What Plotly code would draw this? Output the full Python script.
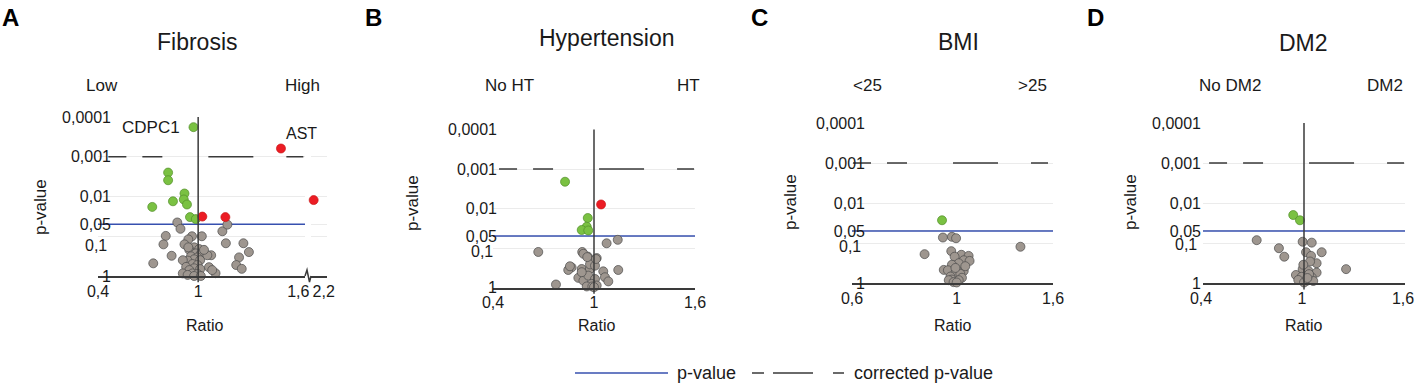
import math
import plotly.graph_objects as go

FONT = "Liberation Sans, Arial, Helvetica, sans-serif"
W, H = 1416, 386

P_THRESHOLD = 0.05
CORRECTED_THRESHOLD = 0.001

Y_TICK_VALUES = [0.0001, 0.001, 0.01, 0.05, 0.1, 1]
Y_TICK_LABELS = ["0,0001", "0,001", "0,01", "0,05", "", "1"]
Y_TENTH_LABEL = "0,1"   # drawn slightly below its gridline, as in the reference

# ---------------- Panel A: Fibrosis ----------------
A_gray_ratio = [0.875, 0.894, 0.806, 0.792, 0.841, 0.731, 0.963, 0.941, 1.022, 1.145,
                1.175, 1.166, 1.271, 1.304, 1.245, 1.228, 1.261, 1.065, 1.104, 1.078,
                0.976, 1.006, 0.947, 0.986, 1.016, 0.957, 0.996, 0.976, 0.937, 1.012,
                0.908, 0.966, 0.996, 0.928, 0.976, 1.012, 0.947, 0.908, 0.966, 0.996,
                0.937, 0.976, 1.016, 1.084, 1.055, 1.035, 0.918, 0.941]
A_gray_p = [0.045, 0.065, 0.098, 0.16, 0.31, 0.48, 0.10, 0.12, 0.10, 0.075,
            0.051, 0.15, 0.15, 0.25, 0.34, 0.53, 0.66, 0.60, 0.85, 0.30,
            0.19, 0.21, 0.22, 0.27, 0.28, 0.32, 0.34, 0.38, 0.41, 0.40,
            0.40, 0.50, 0.53, 0.59, 0.64, 0.67, 0.71, 0.86, 0.86, 0.89,
            0.94, 1.0, 1.0, 0.71, 0.30, 0.22, 0.16, 0.19]
A_low_ratio = [0.972, 0.82, 0.82, 0.918, 0.914, 0.933, 0.849, 0.725, 0.951, 0.986]
A_low_p = [0.00018, 0.0025, 0.0039, 0.0084, 0.0119, 0.0159, 0.0132, 0.0183, 0.033, 0.037]
A_high_ratio = [1.496, 2.05, 1.025, 1.163]
A_high_p = [0.00062, 0.0123, 0.032, 0.033]

# ---------------- Panel B: Hypertension ----------------
B_gray_ratio = [1.075, 1.141, 0.669, 0.930, 0.963, 1.016, 0.986, 0.867, 0.847, 0.927,
                0.976, 1.055, 1.144, 1.065, 1.085, 0.907, 0.937, 0.966, 1.006, 0.986,
                1.016, 0.957, 0.774, 0.927, 0.976, 1.006, 0.857, 0.937, 0.960, 1.012,
                0.99, 1.0]
B_gray_p = [0.076, 0.062, 0.126, 0.126, 0.165, 0.18, 0.21, 0.31, 0.36, 0.34,
            0.34, 0.39, 0.36, 0.55, 0.70, 0.57, 0.67, 0.50, 0.61, 0.81,
            0.89, 0.94, 0.84, 0.41, 0.26, 0.28, 0.29, 0.14, 0.17, 0.19,
            0.94, 0.98]
B_low_ratio = [0.828, 0.963, 0.957, 0.927, 0.966]
B_low_p = [0.0021, 0.0174, 0.029, 0.035, 0.036]
B_high_ratio = [1.042]
B_high_p = [0.0079]

# ---------------- Panel C: BMI ----------------
C_gray_ratio = [0.935, 0.977, 0.997, 0.855, 1.365, 0.974, 1.023, 1.060, 0.990, 1.035,
                1.065, 1.010, 0.977, 0.939, 0.958, 1.035, 0.994, 1.018, 0.970, 1.026,
                0.977, 1.010, 0.994, 1.043, 0.962, 0.985, 1.0]
C_gray_p = [0.073, 0.070, 0.076, 0.19, 0.124, 0.16, 0.197, 0.21, 0.22, 0.27,
            0.28, 0.32, 0.35, 0.47, 0.48, 0.50, 0.55, 0.59, 0.69, 0.74,
            0.82, 0.85, 0.42, 0.38, 0.85, 0.95, 0.97]
C_low_ratio = [0.931]
C_low_p = [0.027]

# ---------------- Panel D: DM2 ----------------
D_gray_ratio = [0.719, 0.992, 1.046, 0.851, 0.883, 1.105, 1.012, 1.042, 1.250, 1.075,
                1.036, 0.992, 1.026, 1.075, 0.952, 0.986, 1.046, 0.966, 1.016, 1.055,
                0.996, 1.0, 1.03, 1.02]
D_gray_p = [0.085, 0.093, 0.098, 0.135, 0.22, 0.17, 0.17, 0.21, 0.45, 0.32,
            0.29, 0.45, 0.50, 0.55, 0.63, 0.70, 0.72, 0.84, 0.88, 0.89,
            0.35, 0.97, 0.60, 0.75]
D_low_ratio = [0.936, 0.976]
D_low_p = [0.020, 0.027]

GRAY = "rgb(158,150,143)"
GREEN = "rgb(122,193,66)"
RED = "rgb(236,28,36)"
DARK = "#3a3a3a"
BLUE = "rgb(55,80,175)"
GRID = "#ebebeb"
TEXT = "#1a1a1a"
DASH = "18px,16px,20px,46px,45px,33px,17px,300px"

# x ranges of each panel in data units (ratio)
A_RANGE = [0.4, 1.64]
A_FAR_RANGE = [2.0, 2.3]
B_RANGE = [0.4, 1.6]
C_RANGE = [0.6, 1.6]     # logarithmic axis
D_RANGE = [0.4, 1.6]


def px2x(px):
    return px / W


def py2y(py):
    return 1 - py / H


fig = go.Figure()

# threshold lines (drawn first so the points sit on top)
# (x axis, y axis, x range, dashed start fraction, log x?)
panel_axes = [
    ("x", "y", A_RANGE, 0.05, False),
    ("x3", "y2", B_RANGE, 0.03, False),
    ("x4", "y3", C_RANGE, 0.005, True),
    ("x5", "y4", D_RANGE, 0.03, False),
]
for xa, ya, rng, dstart, is_log in panel_axes:
    x_lo, x_hi = rng
    if is_log:
        d_lo = 10 ** (math.log10(x_lo) + dstart * (math.log10(x_hi) - math.log10(x_lo)))
    else:
        d_lo = x_lo + dstart * (x_hi - x_lo)
    fig.add_trace(go.Scatter(x=[x_lo, x_hi], y=[P_THRESHOLD, P_THRESHOLD], mode="lines",
                             xaxis=xa, yaxis=ya, hoverinfo="skip", cliponaxis=False,
                             line=dict(color=BLUE, width=1.5)))
    fig.add_trace(go.Scatter(x=[d_lo, x_hi], y=[CORRECTED_THRESHOLD, CORRECTED_THRESHOLD],
                             mode="lines", xaxis=xa, yaxis=ya, hoverinfo="skip", cliponaxis=False,
                             line=dict(color=DARK, width=1.4, dash=DASH)))


def add_points(xs, ys, color, xa, ya, outline):
    fig.add_trace(go.Scatter(
        x=xs, y=ys, mode="markers", xaxis=xa, yaxis=ya, cliponaxis=False,
        hoverinfo="x+y",
        marker=dict(size=9, color=color, line=dict(color=outline, width=0.7))))


# Panel A: points beyond the axis break go onto the second x axis
A_BREAK = 1.6
add_points(A_gray_ratio, A_gray_p, GRAY, "x", "y", "#4a4a4a")
add_points(A_low_ratio, A_low_p, GREEN, "x", "y", "rgb(80,140,40)")
add_points([r for r in A_high_ratio if r <= A_BREAK],
           [p for r, p in zip(A_high_ratio, A_high_p) if r <= A_BREAK], RED, "x", "y", "rgb(200,20,20)")
add_points([r for r in A_high_ratio if r > A_BREAK],
           [p for r, p in zip(A_high_ratio, A_high_p) if r > A_BREAK], RED, "x2", "y", "rgb(200,20,20)")

add_points(B_gray_ratio, B_gray_p, GRAY, "x3", "y2", "#4a4a4a")
add_points(B_low_ratio, B_low_p, GREEN, "x3", "y2", "rgb(80,140,40)")
add_points(B_high_ratio, B_high_p, RED, "x3", "y2", "rgb(200,20,20)")

add_points(C_gray_ratio, C_gray_p, GRAY, "x4", "y3", "#4a4a4a")
add_points(C_low_ratio, C_low_p, GREEN, "x4", "y3", "rgb(80,140,40)")

add_points(D_gray_ratio, D_gray_p, GRAY, "x5", "y4", "#4a4a4a")
add_points(D_low_ratio, D_low_p, GREEN, "x5", "y4", "rgb(80,140,40)")

tickfont = dict(family=FONT, size=16, color=TEXT)


def xaxis_cfg(dom, rng, tv, tt, anchor, typ="linear", shift=0):
    r = [math.log10(v) for v in rng] if typ == "log" else rng
    return dict(domain=[px2x(dom[0]), px2x(dom[1])], range=r, type=typ, anchor=anchor,
                tickmode="array", tickvals=tv, ticktext=tt, showline=True, linecolor=DARK,
                linewidth=1.5, showgrid=False, zeroline=False, ticks="", tickfont=tickfont,
                ticklabelshift=shift, ticklabeloverflow="allow", fixedrange=True,
                automargin=False)


def yaxis_cfg(dom, pos):
    return dict(domain=[py2y(dom[0]), py2y(dom[1])], type="log", range=[0, -4],
                anchor="free", position=px2x(pos), tickmode="array",
                tickvals=Y_TICK_VALUES, ticktext=Y_TICK_LABELS, showgrid=True,
                gridcolor=GRID, gridwidth=1, showline=False, zeroline=False, ticks="",
                tickfont=tickfont, fixedrange=True, automargin=False)


fig.update_layout(
    xaxis=xaxis_cfg((98, 305), A_RANGE, [0.4, 1, 1.6], ["0,4", "1", "1,6"], "y"),
    xaxis2=xaxis_cfg((311, 327), A_FAR_RANGE, [2.2], ["2,2"], "y", shift=2),
    xaxis3=xaxis_cfg((493, 695), B_RANGE, [0.4, 1, 1.6], ["0,4", "1", "1,6"], "y2"),
    xaxis4=xaxis_cfg((852, 1053), C_RANGE, [0.6, 1, 1.6], ["0,6", "1", "1,6"], "y3", typ="log"),
    xaxis5=xaxis_cfg((1203, 1405), D_RANGE, [0.4, 1, 1.6], ["0,4", "1", "1,6"], "y4", shift=-2),
    yaxis=yaxis_cfg((276, 117), 111),
    yaxis2=yaxis_cfg((287.5, 129.5), 497),
    yaxis3=yaxis_cfg((283, 123), 865),
    yaxis4=yaxis_cfg((283, 123), 1201),
)

shapes = []
annotations = []
# vertical ratio = 1 line (axis units: log10 for the log axis) and the "0,1" labels
for xa, ya, one, edge, tshift in [("x", "y", 1, 111, -9), ("x3", "y2", 1, 497, -3),
                                  ("x4", "y3", math.log10(1), 865, -3), ("x5", "y4", 1, 1201, -1)]:
    shapes.append(dict(type="line", xref=xa, yref=f"{ya} domain", x0=one, x1=one, y0=-0.04, y1=1,
                       line=dict(color=DARK, width=1.5), layer="above"))
    annotations.append(dict(text=Y_TENTH_LABEL, x=px2x(edge - 2), y=math.log10(0.1), xref="paper",
                            yref=ya, showarrow=False, xanchor="right", yanchor="middle",
                            yshift=tshift, font=tickfont))

# axis break zigzag on panel A
bx = [305, 307, 309.5, 311]
by = [276, 270, 282, 276]
path = "M " + " L ".join(f"{px2x(a):.5f},{py2y(b):.5f}" for a, b in zip(bx, by))
shapes.append(dict(type="path", xref="paper", yref="paper", path=path,
                   line=dict(color=DARK, width=1.5)))

# legend
LEG_Y = 373
shapes.append(dict(type="line", xref="paper", yref="paper", x0=px2x(575), x1=px2x(668),
                   y0=py2y(LEG_Y), y1=py2y(LEG_Y), line=dict(color=BLUE, width=1.5)))
shapes.append(dict(type="line", xref="paper", yref="paper", x0=px2x(752), x1=px2x(845),
                   y0=py2y(LEG_Y), y1=py2y(LEG_Y),
                   line=dict(color=DARK, width=1.4, dash="12px,9px,40px,20px,11px,300px")))


def ann(text, x, y, size, bold=False, angle=0, xanchor="center"):
    annotations.append(dict(text=f"<b>{text}</b>" if bold else text, x=px2x(x), y=py2y(y),
                            xref="paper", yref="paper", showarrow=False, textangle=angle,
                            xanchor=xanchor, yanchor="middle",
                            font=dict(family=FONT, size=size, color="#000" if bold else TEXT)))


for letter, x in [("A", 10), ("B", 373), ("C", 759), ("D", 1095)]:
    ann(letter, x, 17, 24, bold=True)
for title, x, y in [("Fibrosis", 197, 42), ("Hypertension", 607, 38), ("BMI", 958, 42), ("DM2", 1303, 43)]:
    ann(title, x, y, 23)
for lab, x in [("Low", 102), ("High", 302), ("No HT", 509), ("HT", 688), ("<25", 867), (">25", 1032),
               ("No DM2", 1230), ("DM2", 1385)]:
    ann(lab, x, 85, 17)
for x, y in [(40, 207), (412, 203), (790, 202), (1130, 202)]:
    ann("p-value", x, y, 17, angle=-90)
for x in [204, 596, 953, 1303]:
    ann("Ratio", x, 325, 16)
ann("p-value", 675, LEG_Y, 18, xanchor="left")
ann("corrected p-value", 852, LEG_Y, 18, xanchor="left")

# gene labels
annotations.append(dict(text="CDPC1", x=A_low_ratio[0], y=math.log10(A_low_p[0]), xref="x", yref="y",
                        showarrow=False, xanchor="right", yanchor="middle", xshift=-11,
                        font=dict(family=FONT, size=17, color=TEXT)))
annotations.append(dict(text="AST", x=A_high_ratio[0], y=math.log10(A_high_p[0]), xref="x", yref="y",
                        showarrow=False, xanchor="left", yanchor="bottom", xshift=3, yshift=5,
                        font=dict(family=FONT, size=16, color=TEXT)))

fig.update_layout(
    width=W, height=H, margin=dict(l=0, r=0, t=0, b=0, autoexpand=False),
    paper_bgcolor="white", plot_bgcolor="rgba(0,0,0,0)", showlegend=False,
    shapes=shapes, annotations=annotations,
    font=dict(family=FONT, size=16, color=TEXT),
)

fig.write_html("out.html", include_plotlyjs=True, config={"displayModeBar": False},
               post_script=["document.body.style.margin='0';document.body.style.overflow='hidden';"])
